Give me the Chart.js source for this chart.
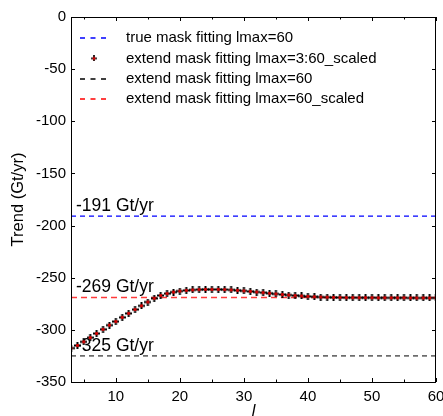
<!DOCTYPE html>
<html><head><meta charset="utf-8">
<script src="https://cdn.jsdelivr.net/npm/chart.js@4.4.0/dist/chart.umd.min.js"></script>
<style>html,body{margin:0;padding:0;background:#fff}#wrap{width:443px;height:416px}</style>
</head><body><div id="wrap"><canvas id="c" width="443" height="416"></canvas></div>
<script>
// ---- data ----
const degrees = [3,4,5,6,7,8,9,10,11,12,13,14,15,16,17,18,19,20,21,22,23,24,25,26,27,28,29,30,31,32,33,34,35,36,37,38,39,40,41,42,43,44,45,46,47,48,49,50,51,52,53,54,55,56,57,58,59,60];
const trendScaled = [-317.5,-315,-311.5,-307.5,-303.5,-299.5,-295.5,-292,-288,-284.2,-280.5,-277,-273.3,-269.8,-267,-265.2,-263.8,-262.8,-262.2,-261.7,-261.4,-261.2,-261.2,-261.2,-261.4,-261.7,-262.1,-262.6,-263.1,-263.7,-264.3,-264.9,-265.5,-266.1,-266.6,-267.1,-267.5,-267.9,-268.2,-268.5,-268.7,-268.9,-269,-269.1,-269.1,-269.2,-269.2,-269.2,-269.3,-269.3,-269.3,-269.3,-269.3,-269.4,-269.4,-269.4,-269.4,-269.4];
const lineRange = [3, 60];
const trueMaskLevel = -191;
const extendLevel = -325;
const extendScaledLevel = -269;
const levelLabels = ['-191 Gt/yr', '-269 Gt/yr', '-325 Gt/yr'];
const levelValues = [trueMaskLevel, extendScaledLevel, extendLevel];
const xTickValues = [10,20,30,40,50,60];
const xMinorTickValues = [5,15,25,35,45,55];
const yTickValues = [0,-50,-100,-150,-200,-250,-300,-350];
const legendLabels = ['true mask fitting lmax=60','extend mask fitting lmax=3:60_scaled','extend mask fitting lmax=60','extend mask fitting lmax=60_scaled'];

const FONT = "'Liberation Sans', Arial, Helvetica, sans-serif";

// marker image: black plus with red centre
function makeMarker(size, lw, redSize){
  const c = document.createElement('canvas');
  c.width = size; c.height = size;
  const g = c.getContext('2d');
  const h = size/2;
  g.strokeStyle = '#000'; g.lineWidth = lw;
  g.beginPath();
  g.moveTo(h, 0); g.lineTo(h, size);
  g.moveTo(0, h); g.lineTo(size, h);
  g.stroke();
  g.fillStyle = '#e00000';
  g.fillRect(h-redSize/2, h-redSize/2, redSize, redSize);
  return c;
}
const marker = makeMarker(7, 2, 2.8);
const legendMarker = makeMarker(6, 1.7, 2.6);

function hline(v){ return lineRange.map(x => ({x, y: v})); }

const decor = {
  id: 'decor',
  beforeDatasetsDraw(chart){
    const {ctx, scales:{x, y}} = chart;
    ctx.save();
    ctx.fillStyle = '#000';
    ctx.font = '17.5px ' + FONT;
    ctx.textBaseline = 'middle';
    ctx.textAlign = 'left';
    levelValues.forEach((v, i) => {
      ctx.fillText(levelLabels[i], x.getPixelForValue(lineRange[0]) + 5, y.getPixelForValue(v) - 10);
    });
    ctx.restore();
  },
  afterDraw(chart){
    const {ctx, chartArea:a, scales:{x, y}} = chart;
    ctx.save();
    ctx.strokeStyle = '#000';
    ctx.lineWidth = 1;
    ctx.strokeRect(a.left + 0.5, a.top + 0.5, a.right - a.left - 1, a.bottom - a.top);
    ctx.beginPath();
    const tk = (px, len) => {
      const p = Math.round(px) + 0.5;
      ctx.moveTo(p, a.bottom); ctx.lineTo(p, a.bottom - len);
      ctx.moveTo(p, a.top); ctx.lineTo(p, a.top + len);
    };
    xTickValues.forEach(v => tk(x.getPixelForValue(v), 4));
    xMinorTickValues.forEach(v => tk(x.getPixelForValue(v), 2.5));
    yTickValues.forEach(v => {
      const p = Math.round(y.getPixelForValue(v)) + 0.5;
      ctx.moveTo(a.left, p); ctx.lineTo(a.left + 4, p);
      ctx.moveTo(a.right, p); ctx.lineTo(a.right - 4, p);
    });
    ctx.stroke();

    // legend
    const colors = ['#0000ff', null, '#000000', '#ff0000'];
    ctx.font = '15px ' + FONT;
    ctx.textBaseline = 'middle';
    ctx.fillStyle = '#000';
    legendLabels.forEach((t, i) => {
      const ry = a.top + 21 + i * 20.4;
      if (colors[i]) {
        ctx.save();
        ctx.strokeStyle = colors[i];
        ctx.lineWidth = 1.3;
        ctx.setLineDash([5, 5.5]);
        ctx.beginPath();
        ctx.moveTo(80, Math.round(ry)); ctx.lineTo(107, Math.round(ry));
        ctx.stroke();
        ctx.restore();
      } else {
        ctx.drawImage(legendMarker, 94 - 3, ry - 3);
      }
      ctx.fillText(t, 126, ry);
    });
    ctx.restore();
  }
};

new Chart(document.getElementById('c'), {
  type: 'scatter',
  data: {
    datasets: [
      { label: legendLabels[1], data: degrees.map((d, i) => ({x: d, y: trendScaled[i]})),
        showLine: false, pointStyle: marker, pointRadius: 3.5 },
      { label: legendLabels[0], data: hline(trueMaskLevel), showLine: true, borderColor: '#0000ff',
        borderWidth: 1.2, borderDash: [5, 4], pointRadius: 0 },
      { label: legendLabels[2], data: hline(extendLevel), showLine: true, borderColor: '#000000',
        borderWidth: 1, borderDash: [5, 4], pointRadius: 0 },
      { label: legendLabels[3], data: hline(extendScaledLevel), showLine: true, borderColor: '#ff3a3a',
        borderWidth: 1.6, borderDash: [6, 4], pointRadius: 0 }
    ]
  },
  options: {
    responsive: false,
    animation: false,
    events: [],
    devicePixelRatio: 1,
    layout: { padding: { left: 0, top: 17, right: 7, bottom: 0 } },
    plugins: { legend: { display: false }, tooltip: { enabled: false } },
    scales: {
      x: {
        type: 'linear', min: 3, max: 60,
        grid: { display: false, drawTicks: false },
        border: { display: false },
        ticks: { color: '#000', font: { size: 15, family: FONT }, padding: 6, maxRotation: 0 },
        afterBuildTicks: s => { s.ticks = xTickValues.map(v => ({value: v})); },
        afterFit: s => { s.height = 34; s.paddingLeft = 0; s.paddingRight = 0; },
        title: { display: true, text: 'l', color: '#000', font: { size: 16.5, style: 'italic', family: FONT }, padding: { top: 0, bottom: -5 } }
      },
      y: {
        type: 'linear', min: -350, max: 0,
        grid: { display: false, drawTicks: false },
        border: { display: false },
        ticks: { color: '#000', font: { size: 15, family: FONT }, padding: 5 },
        afterBuildTicks: s => { s.ticks = yTickValues.map(v => ({value: v})); },
        afterFit: s => { s.width = 71; s.paddingTop = 0; s.paddingBottom = 0; },
        title: { display: true, text: 'Trend (Gt/yr)', color: '#000', font: { size: 16.5, family: FONT }, padding: { top: 9, bottom: 0 } }
      }
    }
  },
  plugins: [decor]
});
</script>
</body></html>
